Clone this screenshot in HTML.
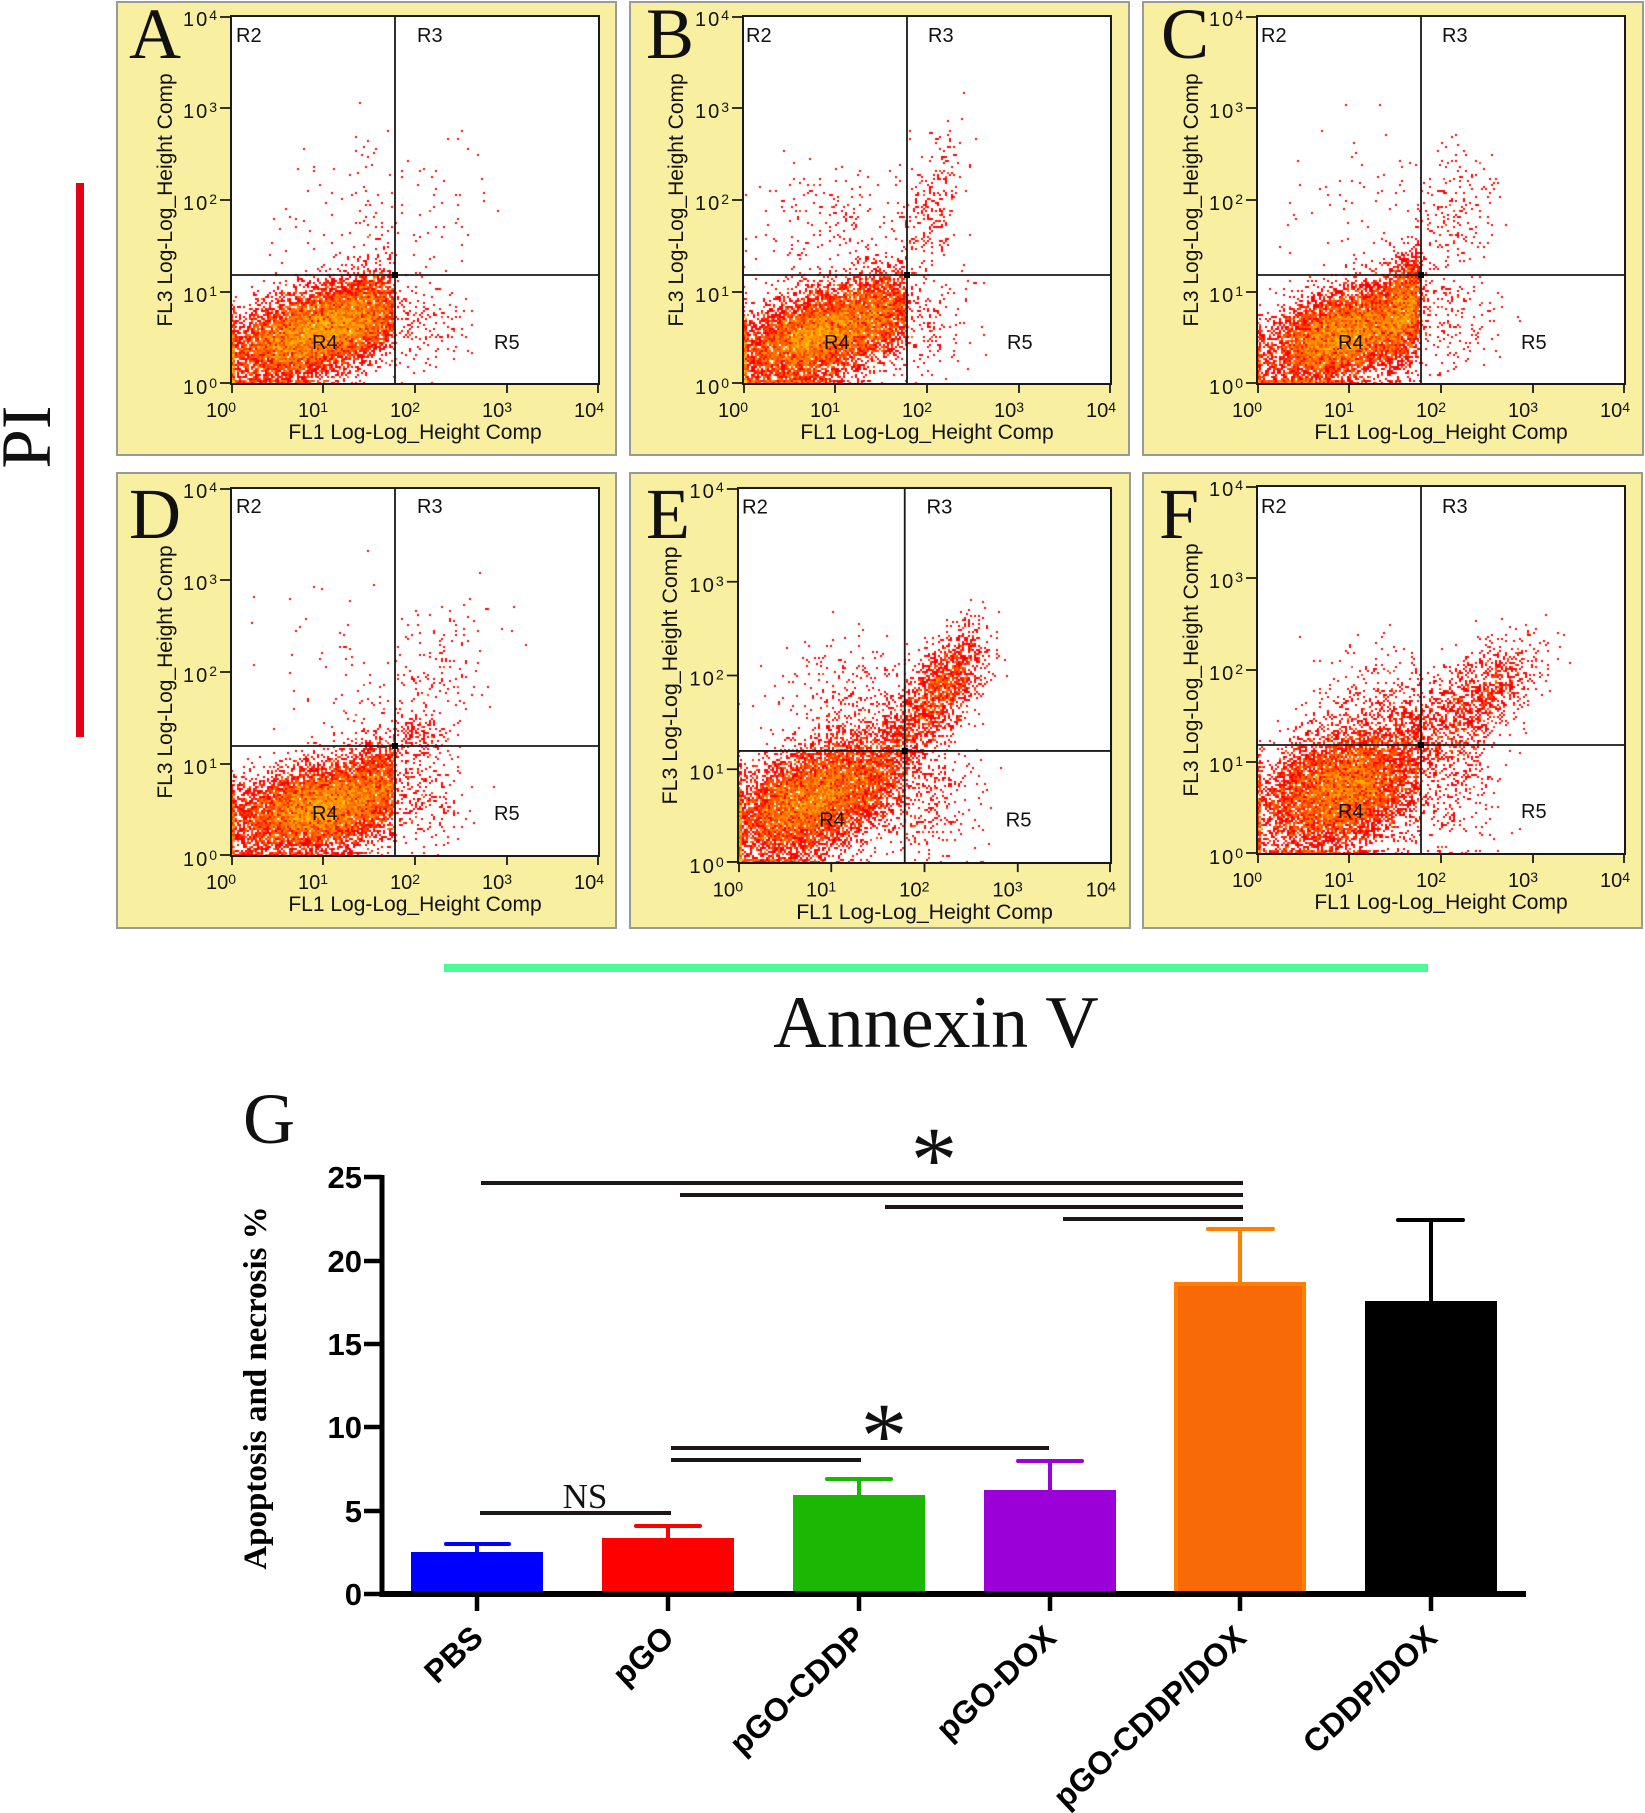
<!DOCTYPE html>
<html><head><meta charset="utf-8">
<style>
html,body{margin:0;padding:0;background:#fff;}
#wrap{position:relative;width:1645px;height:1813px;overflow:hidden;background:#fff;}
svg{position:absolute;left:0;top:0;}
canvas{position:absolute;}
.fr{fill:none;stroke:#1a1a1a;stroke-width:2;}
.ln{fill:none;stroke:#1a1a1a;stroke-width:1.8;}
.yt{font-family:"Liberation Sans",Arial,sans-serif;font-size:20px;fill:#111;text-anchor:end;letter-spacing:2px;}
.xt{font-family:"Liberation Sans",Arial,sans-serif;font-size:20px;fill:#111;}
.sp{font-size:14px;letter-spacing:0;}
.ti{font-family:"Liberation Sans",Arial,sans-serif;font-size:21px;fill:#111;text-anchor:middle;}
.rl{font-family:"Liberation Sans",Arial,sans-serif;font-size:20px;fill:#111;}
.pl{font-family:"Liberation Serif","Times New Roman",serif;font-size:72px;fill:#111;}
.bt{font-family:"Liberation Sans",Arial,sans-serif;font-size:31px;font-weight:bold;fill:#000;text-anchor:end;}
.xl{font-family:"Liberation Sans",Arial,sans-serif;font-size:32px;font-weight:bold;fill:#000;text-anchor:end;}
.sig{stroke:#1c1616;stroke-width:4;fill:none;}
.star{font-family:"Liberation Serif","Times New Roman",serif;font-size:93px;fill:#111;text-anchor:middle;}
</style></head>
<body>
<div id="wrap">
<svg width="1645" height="1813" viewBox="0 0 1645 1813">
<g fill="#f9efa0" stroke="#9a9a9a" stroke-width="2">
<rect x="117" y="2" width="499" height="453"/>
<rect x="630" y="2" width="499" height="453"/>
<rect x="1143" y="2" width="500" height="453"/>
<rect x="117" y="473" width="499" height="455"/>
<rect x="630" y="473" width="500" height="455"/>
<rect x="1143" y="473" width="499" height="455"/>
</g>
<g fill="#fff">
<rect x="231" y="16" width="368" height="368"/>
<rect x="743" y="16" width="368" height="368"/>
<rect x="1257" y="16" width="368" height="368"/>
<rect x="231" y="488" width="368" height="368"/>
<rect x="738" y="488" width="373" height="375"/>
<rect x="1257" y="486" width="368" height="368"/>
</g>
</svg>

<canvas id="cA" width="368" height="368" style="left:231px;top:16px"></canvas>
<canvas id="cB" width="368" height="368" style="left:743px;top:16px"></canvas>
<canvas id="cC" width="368" height="368" style="left:1257px;top:16px"></canvas>
<canvas id="cD" width="368" height="368" style="left:231px;top:488px"></canvas>
<canvas id="cE" width="373" height="375" style="left:738px;top:488px"></canvas>
<canvas id="cF" width="368" height="368" style="left:1257px;top:486px"></canvas>

<svg width="1645" height="1813" viewBox="0 0 1645 1813">
<!-- Panel A -->
<g transform="translate(231,16)">
<rect width="368" height="368" class="fr"/>
<path class="ln" d="M164 0V368M0 259H368"/>
<rect x="161" y="256" width="6" height="6" fill="#000"/>
<path class="ln" d="M-11 1H0M-11 92H0M-11 184H0M-11 276H0M-11 367H0M1 368V377M92 368V377M184 368V377M276 368V377M367 368V377"/>
<text class="yt" x="-14" y="10">10<tspan class="sp" dy="-6">4</tspan></text>
<text class="yt" x="-14" y="102">10<tspan class="sp" dy="-6">3</tspan></text>
<text class="yt" x="-14" y="194">10<tspan class="sp" dy="-6">2</tspan></text>
<text class="yt" x="-14" y="286">10<tspan class="sp" dy="-6">1</tspan></text>
<text class="yt" x="-14" y="378">10<tspan class="sp" dy="-6">0</tspan></text>
<text class="xt" x="-25" y="401">10<tspan class="sp" dy="-5">0</tspan></text>
<text class="xt" x="67" y="401">10<tspan class="sp" dy="-5">1</tspan></text>
<text class="xt" x="159" y="401">10<tspan class="sp" dy="-5">2</tspan></text>
<text class="xt" x="251" y="401">10<tspan class="sp" dy="-5">3</tspan></text>
<text class="xt" x="343" y="401">10<tspan class="sp" dy="-5">4</tspan></text>
<text class="ti" x="184" y="423">FL1 Log-Log_Height Comp</text>
<text class="ti" transform="translate(-59,184) rotate(-90)">FL3 Log-Log_Height Comp</text>
<text class="rl" x="5" y="26">R2</text>
<text class="rl" x="186" y="26">R3</text>
<text class="rl" x="81" y="333">R4</text>
<text class="rl" x="263" y="333">R5</text>
</g>
<!-- Panel B -->
<g transform="translate(743,16)">
<rect width="368" height="368" class="fr"/>
<path class="ln" d="M164 0V368M0 259H368"/>
<rect x="161" y="256" width="6" height="6" fill="#000"/>
<path class="ln" d="M-11 1H0M-11 92H0M-11 184H0M-11 276H0M-11 367H0M1 368V377M92 368V377M184 368V377M276 368V377M367 368V377"/>
<text class="yt" x="-14" y="10">10<tspan class="sp" dy="-6">4</tspan></text>
<text class="yt" x="-14" y="102">10<tspan class="sp" dy="-6">3</tspan></text>
<text class="yt" x="-14" y="194">10<tspan class="sp" dy="-6">2</tspan></text>
<text class="yt" x="-14" y="286">10<tspan class="sp" dy="-6">1</tspan></text>
<text class="yt" x="-14" y="378">10<tspan class="sp" dy="-6">0</tspan></text>
<text class="xt" x="-25" y="401">10<tspan class="sp" dy="-5">0</tspan></text>
<text class="xt" x="67" y="401">10<tspan class="sp" dy="-5">1</tspan></text>
<text class="xt" x="159" y="401">10<tspan class="sp" dy="-5">2</tspan></text>
<text class="xt" x="251" y="401">10<tspan class="sp" dy="-5">3</tspan></text>
<text class="xt" x="343" y="401">10<tspan class="sp" dy="-5">4</tspan></text>
<text class="ti" x="184" y="423">FL1 Log-Log_Height Comp</text>
<text class="ti" transform="translate(-60,184) rotate(-90)">FL3 Log-Log_Height Comp</text>
<text class="rl" x="3" y="26">R2</text>
<text class="rl" x="185" y="26">R3</text>
<text class="rl" x="81" y="333">R4</text>
<text class="rl" x="264" y="333">R5</text>
</g>
<!-- Panel C -->
<g transform="translate(1257,16)">
<rect width="368" height="368" class="fr"/>
<path class="ln" d="M164 0V368M0 259H368"/>
<rect x="161" y="256" width="6" height="6" fill="#000"/>
<path class="ln" d="M-11 1H0M-11 92H0M-11 184H0M-11 276H0M-11 367H0M1 368V377M92 368V377M184 368V377M276 368V377M367 368V377"/>
<text class="yt" x="-14" y="10">10<tspan class="sp" dy="-6">4</tspan></text>
<text class="yt" x="-14" y="102">10<tspan class="sp" dy="-6">3</tspan></text>
<text class="yt" x="-14" y="194">10<tspan class="sp" dy="-6">2</tspan></text>
<text class="yt" x="-14" y="286">10<tspan class="sp" dy="-6">1</tspan></text>
<text class="yt" x="-14" y="378">10<tspan class="sp" dy="-6">0</tspan></text>
<text class="xt" x="-25" y="401">10<tspan class="sp" dy="-5">0</tspan></text>
<text class="xt" x="67" y="401">10<tspan class="sp" dy="-5">1</tspan></text>
<text class="xt" x="159" y="401">10<tspan class="sp" dy="-5">2</tspan></text>
<text class="xt" x="251" y="401">10<tspan class="sp" dy="-5">3</tspan></text>
<text class="xt" x="343" y="401">10<tspan class="sp" dy="-5">4</tspan></text>
<text class="ti" x="184" y="423">FL1 Log-Log_Height Comp</text>
<text class="ti" transform="translate(-59,184) rotate(-90)">FL3 Log-Log_Height Comp</text>
<text class="rl" x="4" y="26">R2</text>
<text class="rl" x="185" y="26">R3</text>
<text class="rl" x="81" y="333">R4</text>
<text class="rl" x="264" y="333">R5</text>
</g>
<!-- Panel D -->
<g transform="translate(231,488)">
<rect width="368" height="368" class="fr"/>
<path class="ln" d="M164 0V368M0 258H368"/>
<rect x="161" y="255" width="6" height="6" fill="#000"/>
<path class="ln" d="M-11 1H0M-11 92H0M-11 184H0M-11 276H0M-11 367H0M1 368V377M92 368V377M184 368V377M276 368V377M367 368V377"/>
<text class="yt" x="-14" y="10">10<tspan class="sp" dy="-6">4</tspan></text>
<text class="yt" x="-14" y="102">10<tspan class="sp" dy="-6">3</tspan></text>
<text class="yt" x="-14" y="194">10<tspan class="sp" dy="-6">2</tspan></text>
<text class="yt" x="-14" y="286">10<tspan class="sp" dy="-6">1</tspan></text>
<text class="yt" x="-14" y="378">10<tspan class="sp" dy="-6">0</tspan></text>
<text class="xt" x="-25" y="401">10<tspan class="sp" dy="-5">0</tspan></text>
<text class="xt" x="67" y="401">10<tspan class="sp" dy="-5">1</tspan></text>
<text class="xt" x="159" y="401">10<tspan class="sp" dy="-5">2</tspan></text>
<text class="xt" x="251" y="401">10<tspan class="sp" dy="-5">3</tspan></text>
<text class="xt" x="343" y="401">10<tspan class="sp" dy="-5">4</tspan></text>
<text class="ti" x="184" y="423">FL1 Log-Log_Height Comp</text>
<text class="ti" transform="translate(-59,184) rotate(-90)">FL3 Log-Log_Height Comp</text>
<text class="rl" x="5" y="25">R2</text>
<text class="rl" x="186" y="25">R3</text>
<text class="rl" x="81" y="332">R4</text>
<text class="rl" x="263" y="332">R5</text>
</g>
<!-- Panel E -->
<g transform="translate(738,488) scale(1.0136,1.019)">
<rect width="368" height="368" class="fr"/>
<path class="ln" d="M164.5 0V368M0 258H368"/>
<rect x="161.5" y="255" width="6" height="6" fill="#000"/>
<path class="ln" d="M-11 1H0M-11 92H0M-11 184H0M-11 276H0M-11 367H0M1 368V377M92 368V377M184 368V377M276 368V377M367 368V377"/>
<text class="yt" x="-14" y="10">10<tspan class="sp" dy="-6">4</tspan></text>
<text class="yt" x="-14" y="102">10<tspan class="sp" dy="-6">3</tspan></text>
<text class="yt" x="-14" y="194">10<tspan class="sp" dy="-6">2</tspan></text>
<text class="yt" x="-14" y="286">10<tspan class="sp" dy="-6">1</tspan></text>
<text class="yt" x="-14" y="378">10<tspan class="sp" dy="-6">0</tspan></text>
<text class="xt" x="-25" y="401">10<tspan class="sp" dy="-5">0</tspan></text>
<text class="xt" x="67" y="401">10<tspan class="sp" dy="-5">1</tspan></text>
<text class="xt" x="159" y="401">10<tspan class="sp" dy="-5">2</tspan></text>
<text class="xt" x="251" y="401">10<tspan class="sp" dy="-5">3</tspan></text>
<text class="xt" x="343" y="401">10<tspan class="sp" dy="-5">4</tspan></text>
<text class="ti" x="184" y="423">FL1 Log-Log_Height Comp</text>
<text class="ti" transform="translate(-60,184) rotate(-90)">FL3 Log-Log_Height Comp</text>
<text class="rl" x="4" y="25">R2</text>
<text class="rl" x="186" y="25">R3</text>
<text class="rl" x="80" y="332">R4</text>
<text class="rl" x="264" y="332">R5</text>
</g>
<!-- Panel F -->
<g transform="translate(1257,486)">
<rect width="368" height="368" class="fr"/>
<path class="ln" d="M164 0V368M0 259H368"/>
<rect x="161" y="256" width="6" height="6" fill="#000"/>
<path class="ln" d="M-11 1H0M-11 92H0M-11 184H0M-11 276H0M-11 367H0M1 368V377M92 368V377M184 368V377M276 368V377M367 368V377"/>
<text class="yt" x="-14" y="10">10<tspan class="sp" dy="-6">4</tspan></text>
<text class="yt" x="-14" y="102">10<tspan class="sp" dy="-6">3</tspan></text>
<text class="yt" x="-14" y="194">10<tspan class="sp" dy="-6">2</tspan></text>
<text class="yt" x="-14" y="286">10<tspan class="sp" dy="-6">1</tspan></text>
<text class="yt" x="-14" y="378">10<tspan class="sp" dy="-6">0</tspan></text>
<text class="xt" x="-25" y="401">10<tspan class="sp" dy="-5">0</tspan></text>
<text class="xt" x="67" y="401">10<tspan class="sp" dy="-5">1</tspan></text>
<text class="xt" x="159" y="401">10<tspan class="sp" dy="-5">2</tspan></text>
<text class="xt" x="251" y="401">10<tspan class="sp" dy="-5">3</tspan></text>
<text class="xt" x="343" y="401">10<tspan class="sp" dy="-5">4</tspan></text>
<text class="ti" x="184" y="423">FL1 Log-Log_Height Comp</text>
<text class="ti" transform="translate(-59,184) rotate(-90)">FL3 Log-Log_Height Comp</text>
<text class="rl" x="4" y="27">R2</text>
<text class="rl" x="185" y="27">R3</text>
<text class="rl" x="81" y="332">R4</text>
<text class="rl" x="264" y="332">R5</text>
</g>

<!-- panel letters -->
<text class="pl" x="129" y="58">A</text>
<text class="pl" x="646" y="58">B</text>
<text class="pl" x="1161" y="58">C</text>
<text class="pl" x="129" y="538">D</text>
<text class="pl" x="646" y="538">E</text>
<text class="pl" x="1159" y="538">F</text>

<!-- PI and Annexin V -->
<rect x="76" y="183" width="8" height="554" fill="#e30016"/>
<text class="pl" style="font-size:71px" text-anchor="middle" transform="translate(50,437) rotate(-90)">PI</text>
<rect x="444" y="964" width="984" height="8" fill="#4cfa98"/>
<text class="pl" style="font-size:74px" x="936" y="1047" text-anchor="middle">Annexin V</text>
<text class="pl" x="243" y="1143">G</text>

<!-- Bar chart -->
<g>
<rect x="411" y="1552" width="132" height="41" fill="#0000fe"/>
<rect x="602" y="1538" width="132" height="55" fill="#fe0000"/>
<rect x="793" y="1495" width="132" height="98" fill="#1cb704"/>
<rect x="984" y="1490" width="132" height="103" fill="#9b00d9"/>
<rect x="1176" y="1284" width="128" height="309" fill="#f86a08" stroke="#ff7f00" stroke-width="4"/>
<rect x="1365" y="1301" width="132" height="292" fill="#000"/>
<g stroke-width="4" stroke-linecap="round" fill="none">
<path d="M477 1552V1544M446 1544H509" stroke="#0000fe"/>
<path d="M668 1538V1526M636 1526H700" stroke="#fe0000"/>
<path d="M859 1495V1479M827 1479H891" stroke="#1cb704"/>
<path d="M1050 1490V1461M1018 1461H1082" stroke="#9b00d9"/>
<path d="M1240 1282V1229M1208 1229H1273" stroke="#ff7f00"/>
<path d="M1431 1301V1220M1398 1220H1463" stroke="#000"/>
</g>
<path d="M382 1175V1597" stroke="#000" stroke-width="5"/>
<path d="M380 1594H1526" stroke="#000" stroke-width="6"/>
<path d="M364 1177H382M364 1261H382M364 1344H382M364 1427H382M364 1511H382M364 1594H382" stroke="#000" stroke-width="4.5"/>
<path d="M477 1594V1611M668 1594V1611M859 1594V1611M1050 1594V1611M1240 1594V1611M1431 1594V1611" stroke="#000" stroke-width="4.5"/>
<text class="bt" x="362" y="1188">25</text>
<text class="bt" x="362" y="1272">20</text>
<text class="bt" x="362" y="1355">15</text>
<text class="bt" x="362" y="1438">10</text>
<text class="bt" x="362" y="1522">5</text>
<text class="bt" x="362" y="1605">0</text>
<text transform="translate(266,1388) rotate(-90)" text-anchor="middle" style="font-family:'Liberation Serif','Times New Roman',serif;font-size:33px;font-weight:bold;fill:#000">Apoptosis and necrosis %</text>
<text class="xl" transform="translate(485,1640) rotate(-43)">PBS</text>
<text class="xl" transform="translate(676,1640) rotate(-43)">pGO</text>
<text class="xl" transform="translate(867,1640) rotate(-43)">pGO-CDDP</text>
<text class="xl" transform="translate(1058,1640) rotate(-43)">pGO-DOX</text>
<text class="xl" transform="translate(1248,1640) rotate(-43)">pGO-CDDP/DOX</text>
<text class="xl" transform="translate(1439,1640) rotate(-43)">CDDP/DOX</text>
<path class="sig" d="M481 1183H1243M680 1195H1243M885 1207H1243M1063 1219H1243"/>
<path class="sig" d="M671 1448H1049M671 1460H861"/>
<path class="sig" d="M480 1513H671"/>
<text x="585" y="1508" text-anchor="middle" style="font-family:'Liberation Serif','Times New Roman',serif;font-size:35px;fill:#111">NS</text>
<text class="star" x="934" y="1191">*</text>
<text class="star" x="884" y="1467">*</text>
</g>
</svg>
</div>
<script>
(function(){
function mul(a){return function(){a|=0;a=a+0x6D2B79F5|0;var t=Math.imul(a^a>>>15,1|a);t=t+Math.imul(t^t>>>7,61|t)^t;return((t^t>>>14)>>>0)/4294967296;};}
var P=[
{id:'cA',seed:11,vx:164,c:[[8500,80,50,42,24,.45,.12],[1500,135,72,20,20,.2,.12],[170,150,160,50,45,.3],[150,190,55,25,25,.2]]},
{id:'cB',seed:23,vx:164,c:[[8000,75,48,42,26,.5,.12],[1200,140,75,20,22,.3,.12],[240,188,175,16,35,.5],[190,90,160,45,30,0],[150,185,60,25,28,.2]]},
{id:'cC',seed:37,vx:164,c:[[7500,85,48,40,25,.45,.12],[2000,148,75,13,28,.3,.12],[220,195,160,22,38,.3],[70,110,180,45,45,0],[140,190,55,25,25,0]]},
{id:'cD',seed:41,vx:164,c:[[8500,90,48,45,22,.35,.12],[1000,150,80,18,20,0,.12],[170,205,175,28,42,.5],[90,120,170,40,45,0],[150,190,118,15,12,0],[190,190,55,25,25,0]]},
{id:'cE',seed:53,vx:165,c:[[8500,75,62,45,30,.5,.3],[1400,203,175,21,28,.6],[600,160,118,25,28,.6],[280,110,160,35,35,0],[300,190,60,25,30,0]]},
{id:'cF',seed:67,vx:164,c:[[8000,85,65,42,32,.35,.3],[900,226,160,27,28,.5],[500,180,118,25,25,0],[300,125,150,35,30,0],[250,190,55,28,28,0]]}
];
P.forEach(function(p){
 var cv=document.getElementById(p.id); if(!cv||!cv.getContext) return;
 var ctx=cv.getContext('2d'); var W=cv.width,H=cv.height;
 var r=mul(p.seed); var sx=W/368, sy=H/368;
 var BW=Math.ceil(W/2),BH=Math.ceil(H/2); var cnt=new Uint16Array(BW*BH);
 p.c.forEach(function(c){
  var s=Math.sqrt(1-c[5]*c[5]);
  for(var i=0;i<c[0];i++){
   var u1=r()||1e-9,u2=r(); var m=Math.sqrt(-2*Math.log(u1));
   var z1=m*Math.cos(6.283185*u2), z2=m*Math.sin(6.283185*u2);
   var x=c[1]+c[3]*z1, y=c[2]+c[4]*(c[5]*z1+s*z2);
   if(c.length>6 && x>p.vx && r()>c[6]) continue;
   if(x<0){ if(x<-25) continue; x=r()*4; }
   if(y<0){ if(y<-25) continue; y=r()*4; }
   if(x>366||y>366) continue;
   x*=sx; y*=sy;
   var bx=Math.floor(x/2), by=Math.floor(y/2);
   if(bx>=BW||by>=BH) continue;
   cnt[bx+by*BW]++;
  }
 });
 var L=Math.log(10);
 for(var by=0;by<BH;by++){for(var bx=0;bx<BW;bx++){
  var n=cnt[bx+by*BW]; if(!n) continue;
  var t=Math.min(1,Math.log(n)/L);
  ctx.fillStyle='hsl('+(48*t).toFixed(1)+',100%,50%)';
  ctx.fillRect(bx*2, H-(by+1)*2, 2, 2);
 }}
});
})();
</script>
</body></html>
